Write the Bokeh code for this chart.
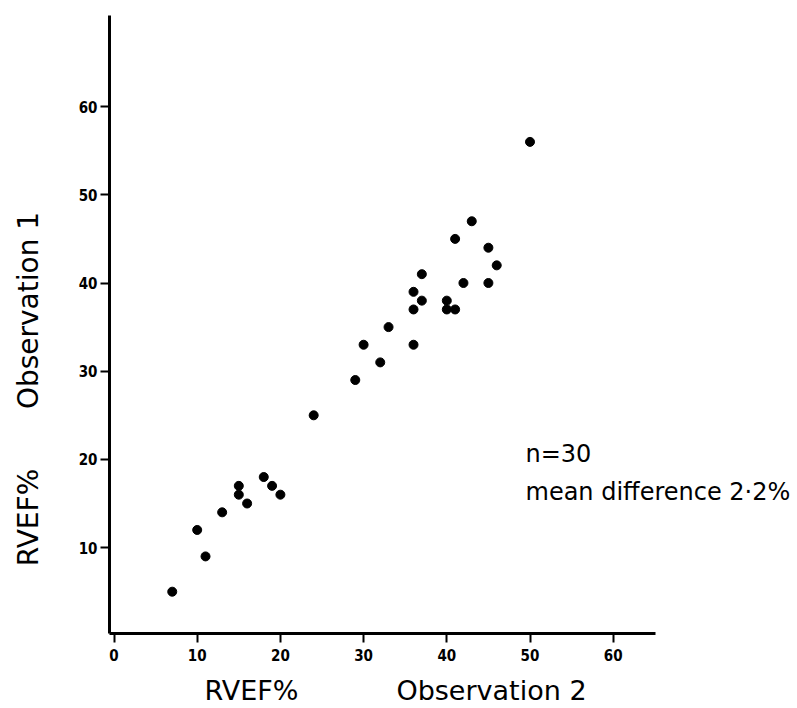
import math
from bokeh.plotting import figure
from bokeh.models import ColumnDataSource, FixedTicker, Range1d, Label
from bokeh.embed import file_html
from bokeh.resources import INLINE

# RVEF% observation 2 (x) vs observation 1 (y)
obs2 = [7, 10, 11, 13, 15, 15, 16, 18, 19, 20, 24, 29, 30, 32, 33,
        36, 36, 36, 37, 37, 40, 40, 41, 41, 42, 43, 45, 45, 46, 50]
obs1 = [5, 12, 9, 14, 17, 16, 15, 18, 17, 16, 25, 29, 33, 31, 35,
        33, 37, 39, 38, 41, 38, 37, 37, 45, 40, 47, 40, 44, 42, 56]
x_ticks = [0, 10, 20, 30, 40, 50, 60]
y_ticks = [10, 20, 30, 40, 50, 60]
x_title_parts = ["RVEF%", "Observation 2"]
y_title_parts = ["RVEF%", "Observation 1"]
note_lines = ["n=30", "mean difference 2\u00b72%"]

# ---- layout constants (canvas pixels) ----
W, H = 797, 708
X0_PX, PX_PER_X = 113.5, 8.32     # pixel of x=0, pixels per unit
Y0_PX, PX_PER_Y = 635.3, 8.82     # pixel of y=0, pixels per unit
AXIS_LEFT_PX, AXIS_BOTTOM_PX = 109, 633
AXIS_TOP_PX, AXIS_RIGHT_PX = 15, 655

def xv(px):
    return (px - X0_PX) / PX_PER_X

def yv(py):
    return (Y0_PX - py) / PX_PER_Y

p = figure(width=W, height=H, output_backend="svg", toolbar_location=None,
           x_range=Range1d(xv(0), xv(W)), y_range=Range1d(yv(H), yv(0)),
           min_border=0)
p.min_border_left = p.min_border_right = p.min_border_top = p.min_border_bottom = 0
p.outline_line_color = None
p.grid.visible = False
p.background_fill_color = "white"
p.border_fill_color = "white"

src = ColumnDataSource(dict(x=obs2, y=obs1))
p.scatter("x", "y", source=src, size=9, fill_color="black", line_color="black")

tick_font = "'Liberation Sans Narrow', 'DejaVu Sans Condensed', sans-serif"
for ax, ticks, standoff in ((p.xaxis, x_ticks, 6), (p.yaxis, y_ticks, 3)):
    ax.ticker = FixedTicker(ticks=ticks)
    ax.axis_line_width = 3
    ax.axis_line_color = "black"
    ax.major_tick_line_width = 2
    ax.major_tick_line_color = "black"
    ax.major_tick_out = 9
    ax.major_tick_in = 0
    ax.minor_tick_line_color = None
    ax.major_label_text_font = tick_font
    ax.major_label_text_font_style = "bold"
    ax.major_label_text_font_size = "15px"
    ax.major_label_text_color = "black"
    ax.major_label_standoff = standoff

p.xaxis.fixed_location = yv(AXIS_BOTTOM_PX)
p.yaxis.fixed_location = xv(AXIS_LEFT_PX)
p.xaxis.bounds = (xv(AXIS_LEFT_PX), xv(AXIS_RIGHT_PX))
p.yaxis.bounds = (yv(AXIS_BOTTOM_PX), yv(AXIS_TOP_PX))

def add_label(text, cx, cy, size, angle=0.0, align="center"):
    # cx, cy: canvas pixels (from the top-left corner) of the text's middle line
    p.add_layout(Label(x=cx, y=H - cy, x_units="screen", y_units="screen",
                       text=text, angle=angle, text_align=align,
                       text_baseline="middle", text_font="DejaVu Sans",
                       text_font_size=size, text_color="black"))

add_label(x_title_parts[0], 251, 690, "27px")
add_label(x_title_parts[1], 491, 690, "27px")
add_label(y_title_parts[0], 28, 517, "28px", angle=math.pi / 2)
add_label(y_title_parts[1], 28, 310, "28px", angle=math.pi / 2)
add_label(note_lines[0], 525, 453, "24px", align="left")
add_label(note_lines[1], 525, 491, "24px", align="left")

open("out.html", "w").write(file_html(p, INLINE))
